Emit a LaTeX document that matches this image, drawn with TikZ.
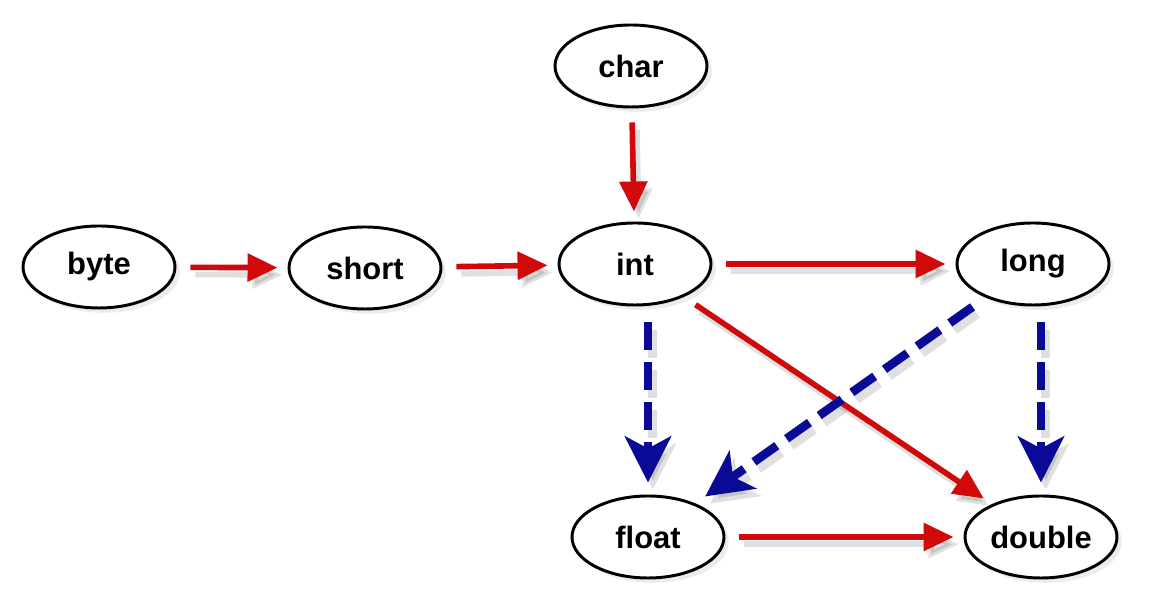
\documentclass[tikz,border=0pt]{standalone}
\usepackage{fontspec}
\setmainfont{Liberation Sans}
\usetikzlibrary{shapes.geometric,arrows.meta,shadows}
\definecolor{myred}{RGB}{208,10,10}
\definecolor{myblue}{RGB}{10,10,150}

\begin{document}
\begin{tikzpicture}
	[every node/.style={ellipse,draw,line width=2.1pt,fill=white,minimum width=3.8cm,minimum height=2.05cm,inner sep=0pt,
		font=\fontsize{22}{26}\selectfont\bfseries,
		drop shadow={shadow xshift=.12cm,shadow yshift=-.12cm,opacity=.15}},
	 redline/.style={draw=myred,line width=4pt,shorten <=.35cm,shorten >=.25cm,
		-{Triangle[length=.75cm,width=.68cm]}},
	 blueline/.style={draw=myblue,line width=6.2pt,dash pattern=on .7cm off .3cm,shorten <=.4cm,shorten >=.3cm,
		-{Stealth[length=1.15cm,width=1.15cm,inset=.3cm]}},
	 arrowshadow/.style={draw=black,opacity=.12,transform canvas={shift={(.12cm,-.18cm)}}}]
	\useasboundingbox[fill=white] (0,0) rectangle (28.8,15.05);
	\node (byte) at (2.475,8.375) {byte};
	\node (short) at (9.125,8.35) {short};
	\node (char) at (15.775,13.4) {char};
	\node (int) at (15.875,8.45) {int};
	\node (long) at (25.825,8.45) {long};
	\node (float) at (16.2,1.625) {float};
	\node (double) at (26.025,1.625) {double};
	
	% shadows first, then the arrows
	\foreach \a/\b in {byte/short,short/int,char/int,int/long,int/double,float/double}
	\draw[redline,arrowshadow] (\a) -- (\b);
	\draw[blueline,arrowshadow] (int.south -| float.north) -- (float.north);
	\draw[blueline,arrowshadow] (long) -- (float);
	\draw[blueline,arrowshadow] (long.south -| double.north) -- (double.north);
	
	\foreach \a/\b in {byte/short,short/int,char/int,int/long,int/double,float/double}
	\draw[redline] (\a) -- (\b);
	\draw[blueline] (int.south -| float.north) -- (float.north);
	\draw[blueline] (long) -- (float);
	\draw[blueline] (long.south -| double.north) -- (double.north);
\end{tikzpicture}
\end{document}
